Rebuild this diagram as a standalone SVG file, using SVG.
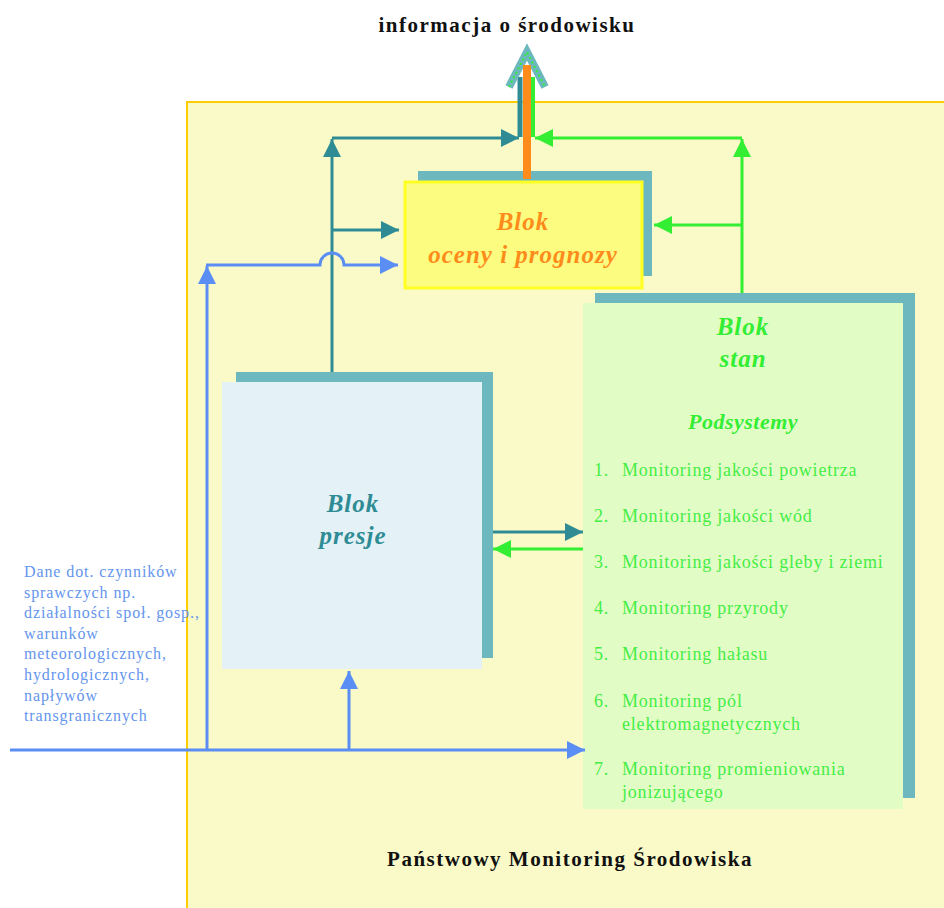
<svg xmlns="http://www.w3.org/2000/svg" width="944" height="908" viewBox="0 0 944 908">
<style>
.teal{stroke:#2F8C94;stroke-width:3;fill:none}
.grn{stroke:#33EE33;stroke-width:3;fill:none}
.blu{stroke:#5B8EF5;stroke-width:3;fill:none}
.shadow{fill:#6CB8BE}
.hdr{font-family:"Liberation Serif",serif;font-weight:bold;font-size:21px;letter-spacing:1.5px;fill:#111;text-anchor:middle}
.blk{font-family:"Liberation Serif",serif;font-weight:bold;font-style:italic;font-size:25px;letter-spacing:1px;text-anchor:middle}
.sub{font-size:22px;letter-spacing:0.5px}
.lst{font-family:"Liberation Serif",serif;font-size:18px;letter-spacing:0.8px;fill:#44EE44}
.src{font-family:"Liberation Serif",serif;font-size:16px;letter-spacing:0.9px;fill:#6495ED}
</style>
<defs>
<marker id="at" viewBox="0 0 10 10" refX="10" refY="5" markerWidth="6" markerHeight="6" orient="auto" markerUnits="strokeWidth"><path d="M0,0 L10,5 L0,10 Z" fill="#2F8C94"/></marker>
<marker id="ag" viewBox="0 0 10 10" refX="10" refY="5" markerWidth="6" markerHeight="6" orient="auto" markerUnits="strokeWidth"><path d="M0,0 L10,5 L0,10 Z" fill="#33EE33"/></marker>
<marker id="ab" viewBox="0 0 10 10" refX="10" refY="5" markerWidth="6" markerHeight="6" orient="auto" markerUnits="strokeWidth"><path d="M0,0 L10,5 L0,10 Z" fill="#5B8EF5"/></marker>
</defs>
<rect width="944" height="908" fill="#FFFFFF"/>
<text class="hdr" x="507" y="32">informacja o środowisku</text>
<g id="pms">
<rect x="187" y="102" width="760" height="810" fill="#FAFAC8" stroke="#FFCC00" stroke-width="2"/>
<text class="hdr" x="570" y="866">Państwowy Monitoring Środowiska</text>
</g>
<g id="ocena">
<rect class="shadow" x="418" y="171" width="234" height="105"/>
<rect x="405" y="182" width="237" height="106" fill="#FCFC80" stroke="#FFFF22" stroke-width="3"/>
<text class="blk" x="523" y="230" fill="#FF8C1A">Blok</text>
<text class="blk" x="523" y="263" fill="#FF8C1A">oceny i prognozy</text>
</g>
<g id="presje">
<rect class="shadow" x="236" y="372" width="257" height="286"/>
<rect x="222" y="382" width="260" height="287" fill="#E4F2F8"/>
<text class="blk" x="353" y="512" fill="#2F8C94">Blok</text>
<text class="blk" x="353" y="544" fill="#2F8C94">presje</text>
</g>
<g id="stan">
<rect class="shadow" x="595" y="293" width="320" height="505"/>
<rect x="583" y="303" width="320" height="506" fill="#E2FCC6"/>
<text class="blk" x="743" y="335" fill="#33EE33">Blok</text>
<text class="blk" x="743" y="367" fill="#33EE33">stan</text>
<text class="blk sub" x="743" y="429" fill="#33EE33">Podsystemy</text>
<g class="lst">
<text x="594" y="476">1.</text><text x="622" y="476">Monitoring jakości powietrza</text>
<text x="594" y="522">2.</text><text x="622" y="522">Monitoring jakości wód</text>
<text x="594" y="568">3.</text><text x="622" y="568">Monitoring jakości gleby i ziemi</text>
<text x="594" y="614">4.</text><text x="622" y="614">Monitoring przyrody</text>
<text x="594" y="660">5.</text><text x="622" y="660">Monitoring hałasu</text>
<text x="594" y="707">6.</text><text x="622" y="707">Monitoring pól</text>
<text x="622" y="730">elektromagnetycznych</text>
<text x="594" y="775">7.</text><text x="622" y="775">Monitoring promieniowania</text>
<text x="622" y="798">jonizującego</text>
</g>
</g>
<g id="zrodla" class="src">
<text x="24" y="577">Dane dot. czynników</text>
<text x="24" y="598">sprawczych np.</text>
<text x="24" y="618">działalności społ. gosp.,</text>
<text x="24" y="639">warunków</text>
<text x="24" y="659">meteorologicznych,</text>
<text x="24" y="680">hydrologicznych,</text>
<text x="24" y="701">napływów</text>
<text x="24" y="721">transgranicznych</text>
</g>
<g id="connectors">
<path d="M520,137 V77" stroke="#2F8C94" stroke-width="5" fill="none"/>
<path d="M533,137 V77" stroke="#33EE33" stroke-width="4" fill="none"/>
<path d="M509,87 L527,52 L545,87" stroke="#6CB8BE" stroke-width="8" fill="none"/>
<path d="M509,87 L527,52 L545,87" stroke="#33EE33" stroke-width="2" stroke-dasharray="2,3" fill="none"/>
<path d="M527,179 V65" stroke="#FF8C1A" stroke-width="8" fill="none"/>
<path class="teal" d="M332,372 V139" marker-end="url(#at)"/>
<path class="teal" d="M332,138 H519" marker-end="url(#at)"/>
<path class="teal" d="M332,230 H399" marker-end="url(#at)"/>
<path class="grn" d="M742,293 V139" marker-end="url(#ag)"/>
<path class="grn" d="M742,138 H535" marker-end="url(#ag)"/>
<path class="grn" d="M742,225 H654" marker-end="url(#ag)"/>
<path class="teal" d="M493,532 H583" marker-end="url(#at)"/>
<path class="grn" d="M583,549 H493" marker-end="url(#ag)"/>
<path class="blu" d="M10,750 H585" marker-end="url(#ab)"/>
<path class="blu" d="M207,750 V266" marker-end="url(#ab)"/>
<path class="blu" d="M206,265 H320 A12,12 0 0 1 344,265 H398" marker-end="url(#ab)"/>
<path class="blu" d="M349,750 V671" marker-end="url(#ab)"/>
</g>
</svg>
